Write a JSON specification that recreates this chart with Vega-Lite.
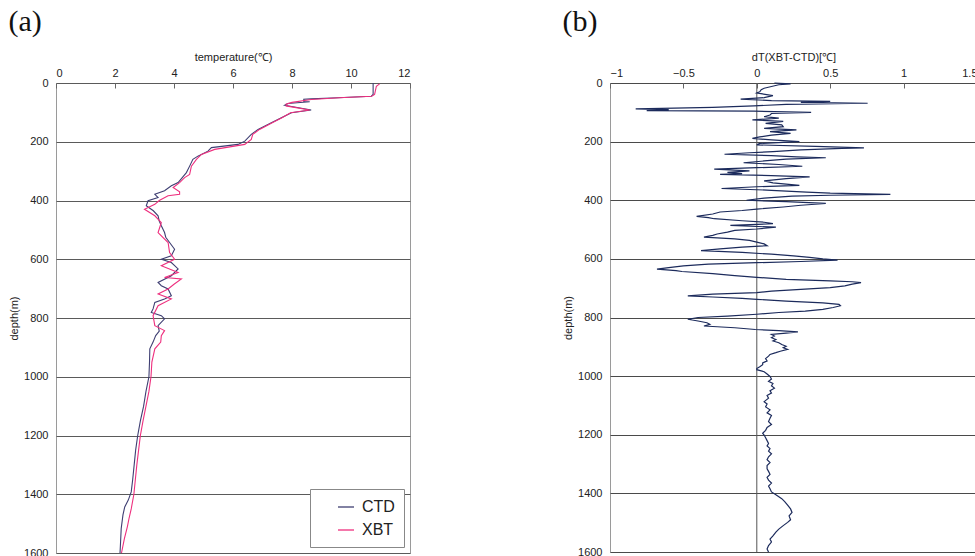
{
  "$schema": "https://vega.github.io/schema/vega-lite/v6.json",
  "padding": {"left": 8, "top": 6, "right": 0, "bottom": 0},
  "background": "white",
  "resolve": {"scale": {"color": "independent"}, "legend": {"color": "independent"}},
  "config": {
    "font": "Liberation Sans",
    "view": {"stroke": "#9a9a9a", "strokeWidth": 1},
    "concat": {"spacing": 151},
    "axis": {
      "labelFont": "Liberation Sans",
      "labelFontSize": 11,
      "labelColor": "#222",
      "titleFont": "Liberation Sans",
      "titleFontSize": 11,
      "titleFontWeight": "normal",
      "titleColor": "#222"
    },
    "title": {"font": "Liberation Serif", "fontSize": 30, "fontWeight": "normal", "anchor": "start", "frame": "bounds", "color": "#111", "offset": 14}
  },
  "datasets": {
    "profiles": [
      {"sensor": "CTD", "depth": 0, "temp": 10.75},
      {"sensor": "CTD", "depth": 39, "temp": 10.75},
      {"sensor": "CTD", "depth": 45, "temp": 10.69},
      {"sensor": "CTD", "depth": 50, "temp": 9.56},
      {"sensor": "CTD", "depth": 54, "temp": 8.65},
      {"sensor": "CTD", "depth": 55, "temp": 8.4},
      {"sensor": "CTD", "depth": 63, "temp": 8.4},
      {"sensor": "CTD", "depth": 64, "temp": 8.6},
      {"sensor": "CTD", "depth": 70, "temp": 7.86},
      {"sensor": "CTD", "depth": 76, "temp": 7.75},
      {"sensor": "CTD", "depth": 92, "temp": 8.65},
      {"sensor": "CTD", "depth": 101, "temp": 7.98},
      {"sensor": "CTD", "depth": 118, "temp": 7.64},
      {"sensor": "CTD", "depth": 135, "temp": 7.3},
      {"sensor": "CTD", "depth": 158, "temp": 6.85},
      {"sensor": "CTD", "depth": 175, "temp": 6.62},
      {"sensor": "CTD", "depth": 198, "temp": 6.4},
      {"sensor": "CTD", "depth": 209, "temp": 6.17},
      {"sensor": "CTD", "depth": 220, "temp": 5.27},
      {"sensor": "CTD", "depth": 232, "temp": 5.15},
      {"sensor": "CTD", "depth": 249, "temp": 4.81},
      {"sensor": "CTD", "depth": 260, "temp": 4.64},
      {"sensor": "CTD", "depth": 283, "temp": 4.53},
      {"sensor": "CTD", "depth": 305, "temp": 4.42},
      {"sensor": "CTD", "depth": 339, "temp": 4.14},
      {"sensor": "CTD", "depth": 350, "temp": 3.91},
      {"sensor": "CTD", "depth": 367, "temp": 3.68},
      {"sensor": "CTD", "depth": 379, "temp": 3.35},
      {"sensor": "CTD", "depth": 390, "temp": 3.46},
      {"sensor": "CTD", "depth": 401, "temp": 3.12},
      {"sensor": "CTD", "depth": 418, "temp": 3.06},
      {"sensor": "CTD", "depth": 435, "temp": 3.3},
      {"sensor": "CTD", "depth": 452, "temp": 3.46},
      {"sensor": "CTD", "depth": 470, "temp": 3.5},
      {"sensor": "CTD", "depth": 486, "temp": 3.57},
      {"sensor": "CTD", "depth": 509, "temp": 3.68},
      {"sensor": "CTD", "depth": 525, "temp": 3.72},
      {"sensor": "CTD", "depth": 543, "temp": 3.85},
      {"sensor": "CTD", "depth": 566, "temp": 4.02},
      {"sensor": "CTD", "depth": 588, "temp": 3.91},
      {"sensor": "CTD", "depth": 600, "temp": 3.57},
      {"sensor": "CTD", "depth": 611, "temp": 3.91},
      {"sensor": "CTD", "depth": 633, "temp": 4.14},
      {"sensor": "CTD", "depth": 656, "temp": 3.91},
      {"sensor": "CTD", "depth": 679, "temp": 3.46},
      {"sensor": "CTD", "depth": 690, "temp": 3.57},
      {"sensor": "CTD", "depth": 701, "temp": 3.8},
      {"sensor": "CTD", "depth": 724, "temp": 3.91},
      {"sensor": "CTD", "depth": 735, "temp": 3.68},
      {"sensor": "CTD", "depth": 747, "temp": 3.35},
      {"sensor": "CTD", "depth": 769, "temp": 3.29},
      {"sensor": "CTD", "depth": 781, "temp": 3.23},
      {"sensor": "CTD", "depth": 792, "temp": 3.57},
      {"sensor": "CTD", "depth": 803, "temp": 3.68},
      {"sensor": "CTD", "depth": 826, "temp": 3.46},
      {"sensor": "CTD", "depth": 845, "temp": 3.5},
      {"sensor": "CTD", "depth": 860, "temp": 3.38},
      {"sensor": "CTD", "depth": 882, "temp": 3.29},
      {"sensor": "CTD", "depth": 905, "temp": 3.18},
      {"sensor": "CTD", "depth": 950, "temp": 3.17},
      {"sensor": "CTD", "depth": 1000, "temp": 3.15},
      {"sensor": "CTD", "depth": 1050, "temp": 3.05},
      {"sensor": "CTD", "depth": 1100, "temp": 2.97},
      {"sensor": "CTD", "depth": 1150, "temp": 2.86},
      {"sensor": "CTD", "depth": 1200, "temp": 2.77},
      {"sensor": "CTD", "depth": 1250, "temp": 2.7},
      {"sensor": "CTD", "depth": 1300, "temp": 2.65},
      {"sensor": "CTD", "depth": 1350, "temp": 2.6},
      {"sensor": "CTD", "depth": 1392, "temp": 2.55},
      {"sensor": "CTD", "depth": 1420, "temp": 2.45},
      {"sensor": "CTD", "depth": 1443, "temp": 2.33},
      {"sensor": "CTD", "depth": 1470, "temp": 2.27},
      {"sensor": "CTD", "depth": 1517, "temp": 2.21},
      {"sensor": "CTD", "depth": 1560, "temp": 2.19},
      {"sensor": "CTD", "depth": 1600, "temp": 2.17},
      {"sensor": "XBT", "depth": 3, "temp": 10.97},
      {"sensor": "XBT", "depth": 11, "temp": 10.86},
      {"sensor": "XBT", "depth": 39, "temp": 10.8},
      {"sensor": "XBT", "depth": 45, "temp": 10.7},
      {"sensor": "XBT", "depth": 50, "temp": 9.6},
      {"sensor": "XBT", "depth": 56, "temp": 8.65},
      {"sensor": "XBT", "depth": 66, "temp": 8.0},
      {"sensor": "XBT", "depth": 72, "temp": 7.8},
      {"sensor": "XBT", "depth": 78, "temp": 7.8},
      {"sensor": "XBT", "depth": 92, "temp": 8.6},
      {"sensor": "XBT", "depth": 101, "temp": 7.95},
      {"sensor": "XBT", "depth": 118, "temp": 7.66},
      {"sensor": "XBT", "depth": 135, "temp": 7.33},
      {"sensor": "XBT", "depth": 158, "temp": 6.9},
      {"sensor": "XBT", "depth": 175, "temp": 6.67},
      {"sensor": "XBT", "depth": 192, "temp": 6.62},
      {"sensor": "XBT", "depth": 209, "temp": 6.4},
      {"sensor": "XBT", "depth": 226, "temp": 5.38},
      {"sensor": "XBT", "depth": 243, "temp": 4.93},
      {"sensor": "XBT", "depth": 260, "temp": 4.76},
      {"sensor": "XBT", "depth": 283, "temp": 4.59},
      {"sensor": "XBT", "depth": 311, "temp": 4.53},
      {"sensor": "XBT", "depth": 322, "temp": 4.36},
      {"sensor": "XBT", "depth": 339, "temp": 4.19},
      {"sensor": "XBT", "depth": 356, "temp": 3.97},
      {"sensor": "XBT", "depth": 370, "temp": 4.19},
      {"sensor": "XBT", "depth": 379, "temp": 4.19},
      {"sensor": "XBT", "depth": 384, "temp": 3.8},
      {"sensor": "XBT", "depth": 400, "temp": 3.5},
      {"sensor": "XBT", "depth": 413, "temp": 3.35},
      {"sensor": "XBT", "depth": 430, "temp": 3.0},
      {"sensor": "XBT", "depth": 452, "temp": 3.35},
      {"sensor": "XBT", "depth": 475, "temp": 3.57},
      {"sensor": "XBT", "depth": 509, "temp": 3.46},
      {"sensor": "XBT", "depth": 543, "temp": 3.8},
      {"sensor": "XBT", "depth": 577, "temp": 3.85},
      {"sensor": "XBT", "depth": 600, "temp": 4.02},
      {"sensor": "XBT", "depth": 622, "temp": 3.57},
      {"sensor": "XBT", "depth": 645, "temp": 4.14},
      {"sensor": "XBT", "depth": 662, "temp": 3.68},
      {"sensor": "XBT", "depth": 667, "temp": 4.25},
      {"sensor": "XBT", "depth": 685, "temp": 4.0},
      {"sensor": "XBT", "depth": 701, "temp": 3.8},
      {"sensor": "XBT", "depth": 718, "temp": 3.46},
      {"sensor": "XBT", "depth": 735, "temp": 3.91},
      {"sensor": "XBT", "depth": 758, "temp": 3.46},
      {"sensor": "XBT", "depth": 792, "temp": 3.29},
      {"sensor": "XBT", "depth": 826, "temp": 3.35},
      {"sensor": "XBT", "depth": 843, "temp": 3.68},
      {"sensor": "XBT", "depth": 860, "temp": 3.57},
      {"sensor": "XBT", "depth": 882, "temp": 3.55},
      {"sensor": "XBT", "depth": 905, "temp": 3.35},
      {"sensor": "XBT", "depth": 950, "temp": 3.25},
      {"sensor": "XBT", "depth": 1000, "temp": 3.22},
      {"sensor": "XBT", "depth": 1050, "temp": 3.15},
      {"sensor": "XBT", "depth": 1100, "temp": 3.05},
      {"sensor": "XBT", "depth": 1150, "temp": 2.95},
      {"sensor": "XBT", "depth": 1200, "temp": 2.86},
      {"sensor": "XBT", "depth": 1250, "temp": 2.8},
      {"sensor": "XBT", "depth": 1300, "temp": 2.74},
      {"sensor": "XBT", "depth": 1350, "temp": 2.69},
      {"sensor": "XBT", "depth": 1400, "temp": 2.64},
      {"sensor": "XBT", "depth": 1450, "temp": 2.55},
      {"sensor": "XBT", "depth": 1480, "temp": 2.48},
      {"sensor": "XBT", "depth": 1510, "temp": 2.42},
      {"sensor": "XBT", "depth": 1550, "temp": 2.32},
      {"sensor": "XBT", "depth": 1600, "temp": 2.22}
    ],
    "diff": [
      {"depth": 0, "dT": 0.12}, {"depth": 3, "dT": 0.23}, {"depth": 6, "dT": 0.15}, {"depth": 12, "dT": 0.1},
      {"depth": 18, "dT": 0.05}, {"depth": 23, "dT": 0.03}, {"depth": 30, "dT": 0.02}, {"depth": 34, "dT": 0.0},
      {"depth": 43, "dT": 0.11}, {"depth": 50, "dT": 0.05}, {"depth": 55, "dT": -0.11}, {"depth": 60, "dT": 0.1},
      {"depth": 63, "dT": 0.5}, {"depth": 66, "dT": 0.3}, {"depth": 69, "dT": 0.755}, {"depth": 73, "dT": 0.2},
      {"depth": 78, "dT": -0.02}, {"depth": 83, "dT": -0.3}, {"depth": 88, "dT": -0.825}, {"depth": 91, "dT": -0.6},
      {"depth": 94, "dT": -0.75}, {"depth": 96, "dT": -0.02}, {"depth": 100, "dT": 0.37}, {"depth": 104, "dT": 0.1},
      {"depth": 109, "dT": 0.09}, {"depth": 115, "dT": 0.05}, {"depth": 120, "dT": 0.15}, {"depth": 126, "dT": -0.03},
      {"depth": 131, "dT": 0.18}, {"depth": 138, "dT": 0.06}, {"depth": 143, "dT": 0.17}, {"depth": 149, "dT": 0.18},
      {"depth": 155, "dT": 0.05}, {"depth": 160, "dT": 0.27}, {"depth": 166, "dT": 0.09}, {"depth": 172, "dT": 0.23},
      {"depth": 178, "dT": 0.1}, {"depth": 184, "dT": 0.02}, {"depth": 189, "dT": -0.03}, {"depth": 194, "dT": 0.1},
      {"depth": 200, "dT": 0.29}, {"depth": 206, "dT": 0.02}, {"depth": 211, "dT": 0.0}, {"depth": 216, "dT": 0.4},
      {"depth": 221, "dT": 0.73}, {"depth": 223, "dT": 0.58}, {"depth": 228, "dT": 0.3}, {"depth": 234, "dT": 0.11},
      {"depth": 238, "dT": -0.05}, {"depth": 243, "dT": -0.22}, {"depth": 248, "dT": 0.1}, {"depth": 252, "dT": 0.27},
      {"depth": 255, "dT": 0.47}, {"depth": 260, "dT": 0.2}, {"depth": 266, "dT": 0.05}, {"depth": 272, "dT": -0.09},
      {"depth": 278, "dT": 0.15}, {"depth": 284, "dT": 0.31}, {"depth": 289, "dT": 0.0}, {"depth": 294, "dT": -0.29},
      {"depth": 300, "dT": -0.05}, {"depth": 305, "dT": -0.2}, {"depth": 309, "dT": -0.1}, {"depth": 312, "dT": -0.25},
      {"depth": 316, "dT": 0.1}, {"depth": 320, "dT": 0.36}, {"depth": 326, "dT": 0.2}, {"depth": 334, "dT": 0.05},
      {"depth": 341, "dT": 0.11}, {"depth": 345, "dT": 0.2}, {"depth": 349, "dT": 0.29}, {"depth": 354, "dT": 0.0},
      {"depth": 360, "dT": -0.24}, {"depth": 366, "dT": 0.1}, {"depth": 372, "dT": 0.34}, {"depth": 376, "dT": 0.5},
      {"depth": 380, "dT": 0.91}, {"depth": 383, "dT": 0.5}, {"depth": 386, "dT": 0.24}, {"depth": 393, "dT": 0.05},
      {"depth": 400, "dT": -0.07}, {"depth": 405, "dT": 0.2}, {"depth": 411, "dT": 0.47}, {"depth": 417, "dT": 0.3},
      {"depth": 423, "dT": 0.18}, {"depth": 430, "dT": 0.0}, {"depth": 435, "dT": -0.1}, {"depth": 440, "dT": -0.25},
      {"depth": 447, "dT": -0.3}, {"depth": 455, "dT": -0.41}, {"depth": 459, "dT": -0.33}, {"depth": 463, "dT": -0.29},
      {"depth": 470, "dT": -0.1}, {"depth": 475, "dT": 0.05}, {"depth": 480, "dT": 0.11}, {"depth": 486, "dT": -0.18},
      {"depth": 492, "dT": 0.13}, {"depth": 498, "dT": 0.0}, {"depth": 503, "dT": -0.15}, {"depth": 509, "dT": -0.2},
      {"depth": 515, "dT": -0.27}, {"depth": 520, "dT": -0.3}, {"depth": 526, "dT": -0.36}, {"depth": 532, "dT": -0.15},
      {"depth": 537, "dT": -0.05}, {"depth": 543, "dT": 0.0}, {"depth": 549, "dT": 0.05}, {"depth": 555, "dT": 0.07},
      {"depth": 560, "dT": -0.1}, {"depth": 566, "dT": -0.25}, {"depth": 572, "dT": -0.38}, {"depth": 578, "dT": -0.1},
      {"depth": 584, "dT": 0.1}, {"depth": 590, "dT": 0.25}, {"depth": 595, "dT": 0.36}, {"depth": 600, "dT": 0.45},
      {"depth": 604, "dT": 0.55}, {"depth": 609, "dT": 0.3}, {"depth": 613, "dT": 0.0}, {"depth": 618, "dT": -0.33},
      {"depth": 624, "dT": -0.5}, {"depth": 630, "dT": -0.6}, {"depth": 635, "dT": -0.68}, {"depth": 640, "dT": -0.55},
      {"depth": 643, "dT": -0.51}, {"depth": 650, "dT": -0.3}, {"depth": 657, "dT": -0.15}, {"depth": 663, "dT": 0.0},
      {"depth": 670, "dT": 0.2}, {"depth": 675, "dT": 0.5}, {"depth": 678, "dT": 0.65}, {"depth": 681, "dT": 0.71},
      {"depth": 686, "dT": 0.65}, {"depth": 692, "dT": 0.6}, {"depth": 698, "dT": 0.5}, {"depth": 704, "dT": 0.3},
      {"depth": 710, "dT": 0.1}, {"depth": 715, "dT": 0.0}, {"depth": 720, "dT": -0.3}, {"depth": 726, "dT": -0.47},
      {"depth": 730, "dT": -0.3}, {"depth": 735, "dT": -0.1}, {"depth": 738, "dT": 0.0}, {"depth": 744, "dT": 0.2},
      {"depth": 750, "dT": 0.45}, {"depth": 755, "dT": 0.56}, {"depth": 760, "dT": 0.57}, {"depth": 766, "dT": 0.52},
      {"depth": 772, "dT": 0.45}, {"depth": 778, "dT": 0.33}, {"depth": 783, "dT": 0.15}, {"depth": 789, "dT": 0.0},
      {"depth": 795, "dT": -0.2}, {"depth": 800, "dT": -0.4}, {"depth": 806, "dT": -0.47}, {"depth": 812, "dT": -0.4},
      {"depth": 818, "dT": -0.34}, {"depth": 823, "dT": -0.32}, {"depth": 829, "dT": -0.36}, {"depth": 835, "dT": -0.15},
      {"depth": 841, "dT": -0.01}, {"depth": 845, "dT": 0.15}, {"depth": 849, "dT": 0.28}, {"depth": 853, "dT": 0.2},
      {"depth": 858, "dT": 0.1}, {"depth": 863, "dT": 0.12}, {"depth": 869, "dT": 0.1}, {"depth": 875, "dT": 0.13},
      {"depth": 880, "dT": 0.11}, {"depth": 886, "dT": 0.15}, {"depth": 892, "dT": 0.17}, {"depth": 898, "dT": 0.2},
      {"depth": 903, "dT": 0.18}, {"depth": 909, "dT": 0.21}, {"depth": 915, "dT": 0.16}, {"depth": 920, "dT": 0.13},
      {"depth": 926, "dT": 0.09}, {"depth": 932, "dT": 0.08}, {"depth": 940, "dT": 0.06}, {"depth": 948, "dT": 0.07},
      {"depth": 955, "dT": 0.04}, {"depth": 961, "dT": 0.04}, {"depth": 968, "dT": 0.02}, {"depth": 974, "dT": 0.0},
      {"depth": 978, "dT": 0.0}, {"depth": 985, "dT": 0.05}, {"depth": 993, "dT": 0.07}, {"depth": 1001, "dT": 0.09},
      {"depth": 1010, "dT": 0.1}, {"depth": 1018, "dT": 0.08}, {"depth": 1025, "dT": 0.11}, {"depth": 1033, "dT": 0.1},
      {"depth": 1041, "dT": 0.12}, {"depth": 1050, "dT": 0.09}, {"depth": 1058, "dT": 0.1}, {"depth": 1066, "dT": 0.07},
      {"depth": 1075, "dT": 0.08}, {"depth": 1087, "dT": 0.05}, {"depth": 1095, "dT": 0.07}, {"depth": 1105, "dT": 0.06},
      {"depth": 1115, "dT": 0.09}, {"depth": 1125, "dT": 0.07}, {"depth": 1134, "dT": 0.1}, {"depth": 1144, "dT": 0.09},
      {"depth": 1155, "dT": 0.08}, {"depth": 1165, "dT": 0.1}, {"depth": 1175, "dT": 0.07}, {"depth": 1185, "dT": 0.06},
      {"depth": 1195, "dT": 0.04}, {"depth": 1201, "dT": 0.05}, {"depth": 1210, "dT": 0.06}, {"depth": 1220, "dT": 0.07},
      {"depth": 1230, "dT": 0.08}, {"depth": 1238, "dT": 0.07}, {"depth": 1247, "dT": 0.09}, {"depth": 1256, "dT": 0.08},
      {"depth": 1265, "dT": 0.1}, {"depth": 1275, "dT": 0.08}, {"depth": 1285, "dT": 0.07}, {"depth": 1295, "dT": 0.09},
      {"depth": 1305, "dT": 0.07}, {"depth": 1316, "dT": 0.07}, {"depth": 1325, "dT": 0.08}, {"depth": 1335, "dT": 0.09},
      {"depth": 1345, "dT": 0.07}, {"depth": 1355, "dT": 0.08}, {"depth": 1365, "dT": 0.1}, {"depth": 1375, "dT": 0.08},
      {"depth": 1384, "dT": 0.09}, {"depth": 1395, "dT": 0.1}, {"depth": 1405, "dT": 0.13}, {"depth": 1418, "dT": 0.17},
      {"depth": 1428, "dT": 0.19}, {"depth": 1440, "dT": 0.21}, {"depth": 1453, "dT": 0.23}, {"depth": 1465, "dT": 0.24},
      {"depth": 1477, "dT": 0.22}, {"depth": 1490, "dT": 0.23}, {"depth": 1499, "dT": 0.21}, {"depth": 1510, "dT": 0.18},
      {"depth": 1522, "dT": 0.15}, {"depth": 1532, "dT": 0.13}, {"depth": 1545, "dT": 0.11}, {"depth": 1556, "dT": 0.09},
      {"depth": 1566, "dT": 0.1}, {"depth": 1578, "dT": 0.08}, {"depth": 1590, "dT": 0.07}, {"depth": 1600, "dT": 0.08}
    ]
  },
  "hconcat": [
    {
      "title": {"text": "(a)"},
      "width": 354,
      "height": 470,
      "data": {"name": "profiles"},
      "mark": {"type": "line", "strokeWidth": 1.1},
      "encoding": {
        "x": {
          "field": "temp", "type": "quantitative",
          "scale": {"domain": [0, 12], "nice": false, "zero": false},
          "axis": {"orient": "top", "title": "temperature(℃)", "values": [0, 2, 4, 6, 8, 10, 12], "format": "d", "grid": false, "domain": false, "ticks": true, "tickSize": -5, "tickColor": "#666", "labelPadding": 10, "titlePadding": 5}
        },
        "y": {
          "field": "depth", "type": "quantitative",
          "scale": {"domain": [0, 1600], "reverse": true, "nice": false},
          "axis": {"title": "depth(m)", "values": [0, 200, 400, 600, 800, 1000, 1200, 1400, 1600], "format": "d", "grid": true, "gridColor": "#5a5a5a", "gridOpacity": 1, "ticks": false, "domain": false, "labelPadding": 8, "titlePadding": 4}
        },
        "order": {"field": "depth", "type": "quantitative"},
        "color": {
          "field": "sensor", "type": "nominal",
          "scale": {"domain": ["CTD", "XBT"], "range": ["#3e3e72", "#ee2f7e"]},
          "legend": {"title": null, "orient": "bottom-right", "offset": 6, "strokeColor": "#888", "fillColor": "white", "padding": 9, "labelFontSize": 16, "labelFont": "Liberation Sans", "labelColor": "#222", "symbolType": "stroke", "symbolSize": 256, "symbolStrokeWidth": 1.3, "symbolOffset": 18, "rowPadding": 6, "labelOffset": 7}
        }
      }
    },
    {
      "title": {"text": "(b)"},
      "width": 367,
      "height": 469,
      "layer": [
        {
          "data": {"values": [{"zero": 0}]},
          "mark": {"type": "rule", "color": "#555", "strokeWidth": 1},
          "encoding": {"x": {"field": "zero", "type": "quantitative"}}
        },
        {
          "data": {"name": "diff"},
          "mark": {"type": "line", "strokeWidth": 1.2, "color": "#1c2b5c"},
          "encoding": {
            "x": {
              "field": "dT", "type": "quantitative",
              "scale": {"domain": [-1, 1.5], "nice": false, "zero": false},
              "axis": {"orient": "top", "title": "dT(XBT-CTD)[℃]", "values": [-1, -0.5, 0, 0.5, 1, 1.5], "format": "~g", "grid": false, "domain": false, "ticks": true, "tickSize": -5, "tickColor": "#666", "labelPadding": 10, "titlePadding": 5}
            },
            "y": {
              "field": "depth", "type": "quantitative",
              "scale": {"domain": [0, 1600], "reverse": true, "nice": false},
              "axis": {"title": "depth(m)", "values": [0, 200, 400, 600, 800, 1000, 1200, 1400, 1600], "format": "d", "grid": true, "gridColor": "#4a4a4a", "gridOpacity": 1, "ticks": false, "domain": false, "labelPadding": 8, "titlePadding": 4}
            },
            "order": {"field": "depth", "type": "quantitative"}
          }
        }
      ]
    }
  ]
}
